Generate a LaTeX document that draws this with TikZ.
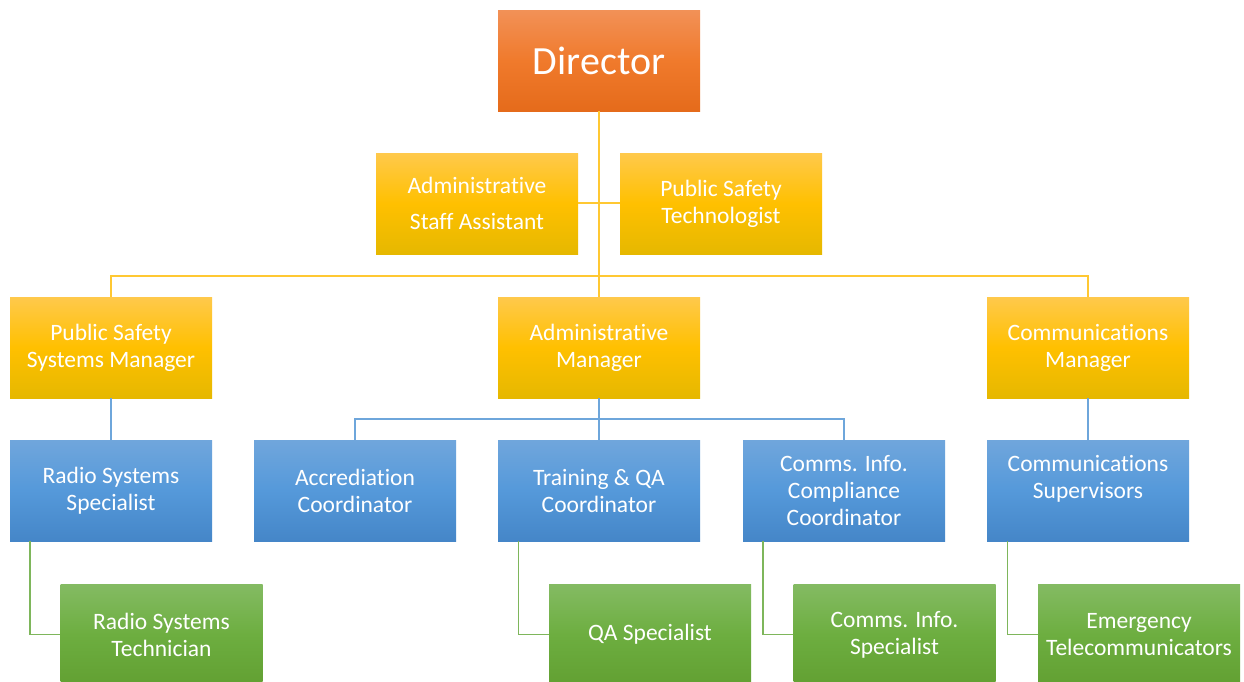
\documentclass[tikz,border=0pt]{standalone}
\usepackage{fontspec}
\setmainfont{Carlito}[RawFeature={-liga;-clig;-dlig}]
\usepackage{tikz}
\usetikzlibrary{calc,positioning}

\definecolor{dirtop}{HTML}{F29157}
\definecolor{dirmid}{HTML}{F07A2C}
\definecolor{dirbot}{HTML}{E56B1B}
\definecolor{yeltop}{HTML}{FFC94C}
\definecolor{yelmid}{HTML}{FFC000}
\definecolor{yelbot}{HTML}{E6B800}
\definecolor{blutop}{HTML}{70A6DC}
\definecolor{blumid}{HTML}{5599DA}
\definecolor{blubot}{HTML}{4586C8}
\definecolor{grntop}{HTML}{84BB63}
\definecolor{grnmid}{HTML}{6DAE40}
\definecolor{grnbot}{HTML}{62A032}
\definecolor{yelline}{HTML}{FFC832}
\definecolor{bluline}{HTML}{6EA6DB}
\definecolor{grnline}{HTML}{7EB65B}

\tikzset{
  box/.style={rectangle, minimum width=202pt, minimum height=101pt,
    inner sep=0pt, align=center, text=white,
    font=\fontsize{23.5}{27}\selectfont},
  dirbox/.style={box, top color=dirtop, bottom color=dirbot, middle color=dirmid,
    font=\fontsize{40}{48}\selectfont},
  mgrbox/.style={box, top color=yeltop, bottom color=yelbot, middle color=yelmid},
  specbox/.style={box, top color=blutop, bottom color=blubot, middle color=blumid},
  staffbox/.style={box, top color=grntop, bottom color=grnbot, middle color=grnmid},
  yline/.style={draw=yelline, line width=1.6pt},
  bline/.style={draw=bluline, line width=1.5pt},
  gline/.style={draw=grnline, line width=1.5pt},
}

\begin{document}
\begin{tikzpicture}[x=1pt,y=-1pt]
\useasboundingbox[fill=white] (0,0) rectangle (1244,681);

% top of the chart
\node[dirbox] (director) at (599,60.5) {Director};
\node[mgrbox] (asst) at (477,203.5) {Administrative\\[9pt]Staff Assistant};
\node[mgrbox] (tech) at (721,203.5) {Public Safety\\Technologist};

% managers
\node[mgrbox] (pssm) at (111,347.5) {Public Safety\\Systems Manager};
\node[mgrbox] (admmgr) at (599,347.5) {Administrative\\Manager};
\node[mgrbox] (commgr) at (1088,347.5) {Communications\\Manager};

% coordinators and specialists
\node[specbox] (rss) at (111,490.5) {Radio Systems\\Specialist};
\node[specbox] (accr) at (355,490.5) {Accrediation\\Coordinator};
\node[specbox] (train) at (599,490.5) {Training \& QA\\Coordinator};
\node[specbox] (cicc) at (844,490.5) {Comms. Info.\\Compliance\\Coordinator};
\node[specbox] (csup) at (1088,490.5) {Communications\\Supervisors\\\mbox{}};

% staff
\node[staffbox] (rst) at (161.5,634.5) {Radio Systems\\Technician};
\node[staffbox] (qa) at (650,634.5) {QA Specialist};
\node[staffbox] (cis) at (894.5,634.5) {Comms. Info.\\Specialist};
\node[staffbox] (emt) at (1139,634.5) {Emergency\\Telecommunicators};

% yellow links
\draw[yline] (director.south) -- (admmgr.north);
\draw[yline] ([yshift=0.5pt]asst.east) -- ([yshift=0.5pt]tech.west);
\draw[yline] (pssm.north) -- ++(0,-21) -| (commgr.north);

% blue links
\draw[bline] (pssm.south) -- (rss.north);
\draw[bline] (commgr.south) -- (csup.north);
\draw[bline] (admmgr.south) -- (train.north);
\draw[bline] (accr.north) -- ++(0,-21) -| (cicc.north);

% green links
\draw[gline] ([xshift=20pt]rss.south west) |- (rst.west);
\draw[gline] ([xshift=20.5pt]train.south west) |- (qa.west);
\draw[gline] ([xshift=20pt]cicc.south west) |- (cis.west);
\draw[gline] ([xshift=20.5pt]csup.south west) |- (emt.west);
\end{tikzpicture}
\end{document}
